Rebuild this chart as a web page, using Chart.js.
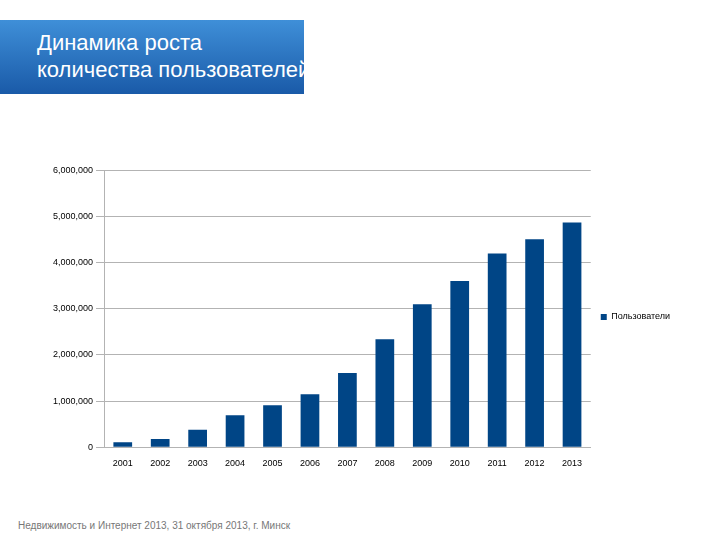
<!DOCTYPE html>
<html><head><meta charset="utf-8">
<script src="https://cdn.jsdelivr.net/npm/chart.js@4"></script>
<style>
body{margin:0;width:720px;height:540px;background:#fff;position:relative;font-family:"Liberation Sans",Arial,sans-serif;overflow:hidden}
#title{position:absolute;left:0;top:20px;width:304px;height:74px;background:linear-gradient(#3f8fd8,#1a5aa8);color:#fff;font-size:22px;line-height:27px;padding:9px 0 0 37px;box-sizing:border-box;overflow:hidden;white-space:nowrap}
#wrap{position:absolute;left:50px;top:162px;width:640px;height:310px}
#foot{position:absolute;left:18px;top:520px;font-size:10px;color:#777}
</style></head><body>
<div id="title">Динамика роста<br>количества пользователей</div>
<div id="wrap"><canvas id="c"></canvas></div>
<div id="foot">Недвижимость и Интернет 2013, 31 октября 2013, г. Минск</div>
<script>
const years = ['2001','2002','2003','2004','2005','2006','2007','2008','2009','2010','2011','2012','2013'];
const users = [110000,180000,380000,690000,910000,1150000,1610000,2340000,3100000,3600000,4200000,4510000,4870000];

new Chart(document.getElementById('c'), {
    type: 'bar',
    data: {
        labels: years,
        datasets: [{label: 'Пользователи', data: users, backgroundColor: '#004586', barPercentage: 0.5, categoryPercentage: 1}]
    },
    options: {
        responsive: true,
        maintainAspectRatio: false,
        animation: false,
        layout: {padding: {right: 10}},
        plugins: {
            legend: {position: 'right', labels: {boxWidth: 6, boxHeight: 6, font: {size: 9, family: 'Liberation Sans'}, color: '#000'}},
            tooltip: {enabled: false}
        },
        scales: {
            x: {grid: {display: false}, border: {color: '#b3b3b3'}, ticks: {font: {size: 9}, color: '#000'}},
            y: {min: 0, max: 6000000, ticks: {stepSize: 1000000, font: {size: 9}, color: '#000'},
                grid: {color: '#b3b3b3'}, border: {color: '#b3b3b3'}}
        }
    }
});
</script>
</body></html>
